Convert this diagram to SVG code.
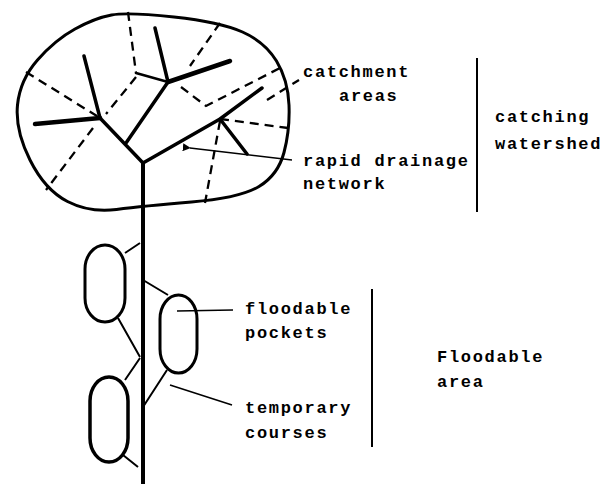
<svg xmlns="http://www.w3.org/2000/svg" width="608" height="484" viewBox="0 0 608 484">
<style>
.o{fill:none;stroke:#000;stroke-width:3;stroke-linejoin:round;stroke-linecap:round}
.b{fill:none;stroke:#000;stroke-width:3.5;stroke-linecap:round}
.bb{fill:none;stroke:#000;stroke-width:4.5;stroke-linecap:round}
.d{fill:none;stroke:#000;stroke-width:2.3;stroke-dasharray:9 6}
.l{fill:none;stroke:#000;stroke-width:1.6}
.t{font-family:"Liberation Mono",monospace;font-size:17px;font-weight:bold;letter-spacing:1.7px;fill:#000}
</style>
<defs>
<marker id="tip" viewBox="0 0 10 10" refX="1" refY="5" markerWidth="5" markerHeight="5" orient="auto-start-reverse">
<path d="M10,0 L0,5 L10,10 Z" fill="#000"/>
</marker>
</defs>
<g id="watershed">
<path class="o" d="M174,17 Q220,22 242.5,32 Q265,42 276.5,61 Q288,80 289,105 Q290,130 284,152.5 Q278,175 259,186.5 Q240,198 191.5,202 Q143,206 116.5,209.5 Q90,213 67.5,201.5 Q45,190 30,160 Q15,130 17.5,105 Q20,80 37.5,60 Q55,40 75,29 Q95,18 111.5,15 Q128,12 174,17 Z"/>
<path class="d" d="M128,12 L136,73 M220,23 L190,66 M26,72 L100,118 M93,128 L46,190 M136,77 L106,114 M181,87 L206,106 L280,68 M220,119 L288,128 M220,121 L205,203 M267,100 L299,80"/>
<path class="b" d="M143,163 L100,118 M100,118 L84,56 M126,143 L168,82 M168,82 L155,28 M143,163 L220,119 M220,119 L262,88 M220,119 L247,154"/>
<path class="bb" d="M100,118 L35,124 M168,82 L230,61"/>
<path class="o" d="M168,82 L136,73" style="stroke-width:2.5"/>
</g>
<g id="trunk">
<path class="bb" d="M143,163 V484" style="stroke-width:4;stroke-linecap:butt"/>
</g>
<g id="pockets">
<rect class="o" x="85" y="245" width="40" height="77" rx="20" ry="24"/>
<rect class="o" x="160" y="295" width="37" height="78" rx="18.5" ry="24"/>
<rect class="o" x="90" y="377" width="38" height="85" rx="19" ry="24" style="stroke-width:3.5"/>
</g>
<g id="connectors">
<path class="l" d="M125,253 L140,243 M118,318 L140,357 M143,280 L168,295 M167,370 L143,407 M125,380 L140,358 M123,455 L138,467" style="stroke-width:2"/>
<path class="l" d="M292,160 L190,148" marker-end="url(#tip)"/>
<path class="l" d="M177,311 L233,310 M170,385 L232,405"/>
<path class="l" d="M477,58 V212 M372,289 V447" style="stroke-width:2"/>
</g>
<g id="labels">
<text class="t" x="303" y="77">catchment</text>
<text class="t" x="339" y="101">areas</text>
<text class="t" x="303" y="166">rapid drainage</text>
<text class="t" x="303" y="189">network</text>
<text class="t" x="495" y="122">catching</text>
<text class="t" x="495" y="149">watershed</text>
<text class="t" x="245" y="314">floodable</text>
<text class="t" x="245" y="338">pockets</text>
<text class="t" x="245" y="413">temporary</text>
<text class="t" x="245" y="438">courses</text>
<text class="t" x="437" y="362">Floodable</text>
<text class="t" x="437" y="387">area</text>
</g>
</svg>
